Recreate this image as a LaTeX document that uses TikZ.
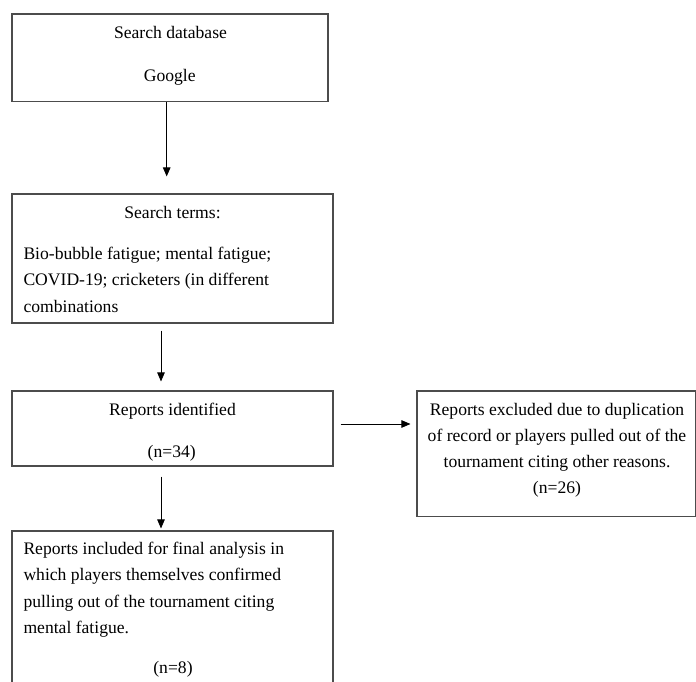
\documentclass[tikz,border=0pt]{standalone}
\usepackage{fontspec}
\setmainfont{Liberation Serif}
\usetikzlibrary{arrows.meta}
\begin{document}
\begin{tikzpicture}[x=1pt,y=-1pt,
  box/.style={draw=black!70,line width=1.1pt,inner sep=0pt,fill=none},
  txt/.style={inner sep=0pt,anchor=base,font=\fontsize{17.6}{26.5}\selectfont},
  ltxt/.style={txt,anchor=base west},
  arr/.style={draw=black,line width=0.9pt,-{Triangle[length=9pt,width=7.5pt]}}]
\useasboundingbox (0,0) rectangle (696,682);
\clip (0,0) rectangle (696,682);
\fill[white] (0,0) rectangle (696,682);
% boxes
\node[box,minimum width=316pt,minimum height=87.5pt] (b1) at (170,57.75) {};
\node[box,minimum width=321pt,minimum height=129pt] (b2) at (172.5,258.5) {};
\node[box,minimum width=321pt,minimum height=75pt] (b3) at (172.5,428.5) {};
\node[box,minimum width=321pt,minimum height=169pt] (b4) at (172.5,615.5) {};
\node[box,minimum width=278.5pt,minimum height=125.5pt] (b5) at (556.25,453.75) {};
% texts
\node[txt] (t1a) at (170.5,38.5) {Search database};
\node[txt] (t1b) at (169.7,81.7) {Google};
\node[txt] (t2a) at (172.5,218) {Search terms:};
\node[ltxt] (t2b) at (23.3,259) {Bio-bubble fatigue; mental fatigue;};
\node[ltxt] (t2c) at (23.3,285.5) {COVID-19; cricketers (in different};
\node[ltxt] (t2d) at (23.3,312) {combinations};
\node[txt] (t3a) at (172.5,415) {Reports identified};
\node[txt] (t3b) at (171.7,457) {(n=34)};
\node[ltxt] (t4a) at (23.3,554) {Reports included for final analysis in};
\node[ltxt] (t4b) at (23.3,580.5) {which players themselves confirmed};
\node[ltxt] (t4c) at (23.3,607) {pulling out of the tournament citing};
\node[ltxt] (t4d) at (23.3,633.5) {mental fatigue.};
\node[txt] (t4e) at (173,673) {(n=8)};
\node[txt] (t5a) at (557,415) {Reports excluded due to duplication};
\node[txt] (t5b) at (557,441.5) {of record or players pulled out of the};
\node[txt] (t5c) at (557,467) {tournament citing other reasons.};
\node[txt] (t5d) at (557,493) {(n=26)};
% arrows
\draw[arr,shorten >=17pt] ([xshift=-3.3pt]b1.south) -- ([xshift=-3.3pt]b1.south |- b2.north);
\draw[arr,shorten <=7pt,shorten >=9pt] ([xshift=-11.5pt]b2.south) -- ([xshift=-11.5pt]b2.south |- b3.north);
\draw[arr,shorten <=10pt,shorten >=2pt] ([xshift=-11.5pt]b3.south) -- ([xshift=-11.5pt]b3.south |- b4.north);
\draw[arr,shorten <=7pt,shorten >=6pt] ([yshift=4.5pt]b3.east) -- ([yshift=4.5pt]b3.east -| b5.west);
\end{tikzpicture}
\end{document}
